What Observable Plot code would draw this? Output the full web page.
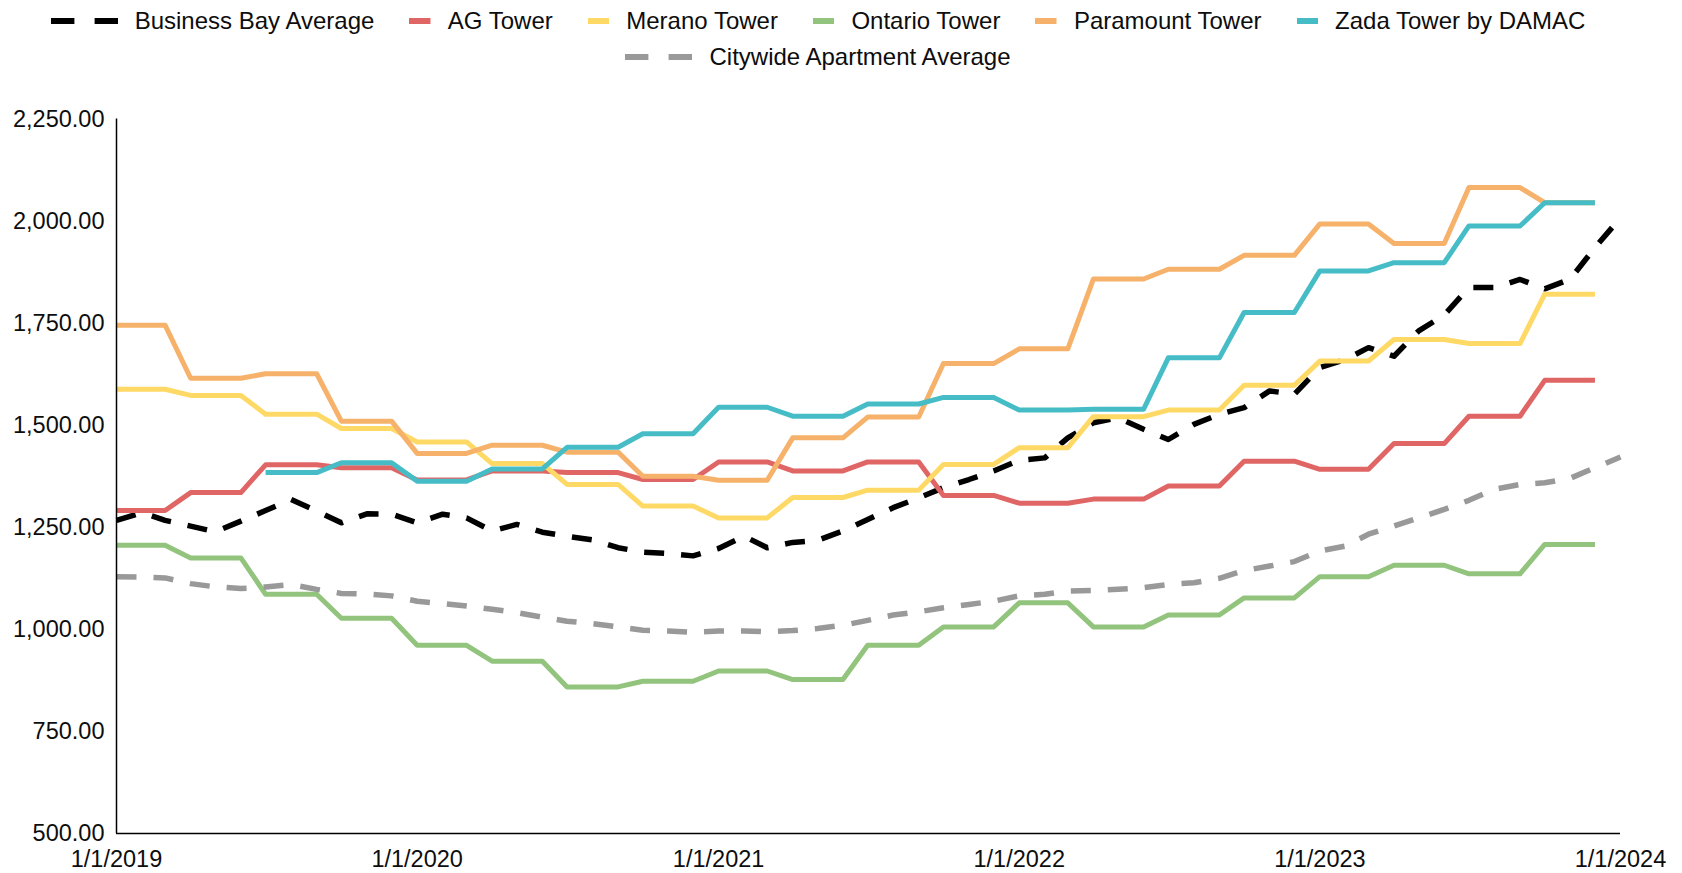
<!DOCTYPE html>
<html><head><meta charset="utf-8">
<script src="https://cdn.jsdelivr.net/npm/d3@7"></script>
<script src="https://cdn.jsdelivr.net/npm/@observablehq/plot@0.6"></script>
<style>
html,body{margin:0;padding:0;background:#fff;}
#wrap{position:relative;width:1682px;height:873px;font-family:"Liberation Sans",Arial,sans-serif;color:#0d0d0d;overflow:hidden;}
.row{position:absolute;left:0;width:1636px;display:flex;justify-content:center;align-items:center;height:30px;font-size:24px;white-space:nowrap;}
.item{display:flex;align-items:center;margin:0 17.5px;}
.item svg{margin-right:17px;display:block;}
#chart{position:absolute;left:0;top:80px;}
</style></head>
<body><div id="wrap"><div id="legend1" class="row" style="top:6px"></div><div id="legend2" class="row" style="top:42px"></div><div id="chart"></div></div>
<script>
// ---- data (monthly, Jan 2019 .. Jan 2024) ----
const businessBay = [1267,1286,1267,1253,1239,1265,1291,1318,1290,1261,1283,1282,
  1261,1282,1273,1241,1257,1238,1228,1219,1200,1189,1186,1180,
  1198,1228,1200,1213,1218,1241,1269,1298,1322,1347,1367,1388,
  1414,1420,1469,1506,1518,1490,1465,1502,1527,1543,1584,1576,
  1641,1661,1690,1669,1731,1770,1837,1837,1857,1834,1858,1935,2008];
const citywide = [1129,1128,1126,1112,1104,1100,1104,1110,1098,1088,1087,1082,
  1069,1063,1057,1049,1041,1030,1020,1014,1006,998,996,993,
  996,996,994,997,1002,1010,1022,1035,1043,1053,1061,1069,
  1082,1086,1094,1095,1098,1102,1110,1114,1125,1144,1155,1166,
  1192,1204,1233,1253,1273,1294,1316,1343,1355,1359,1370,1396,1422];
const agTower = [1291,1291,1291,1335,1335,1335,1403,1403,1403,1396,1396,1396,
  1366,1366,1366,1388,1388,1388,1384,1384,1384,1367,1367,1367,
  1410,1410,1410,1388,1388,1388,1410,1410,1410,1328,1328,1328,
  1309,1309,1309,1319,1319,1319,1351,1351,1351,1412,1412,1412,
  1392,1392,1392,1455,1455,1455,1522,1522,1522,1610,1610,1610];
const meranoTower = [1588,1588,1588,1573,1573,1573,1527,1527,1527,1492,1492,1492,
  1459,1459,1459,1406,1406,1406,1355,1355,1355,1302,1302,1302,
  1273,1273,1273,1323,1323,1323,1341,1341,1341,1404,1404,1404,
  1445,1445,1445,1521,1521,1521,1537,1537,1537,1598,1598,1598,
  1657,1657,1657,1710,1710,1710,1700,1700,1700,1821,1821,1821];
const ontarioTower = [1206,1206,1206,1175,1175,1175,1086,1086,1086,1027,1027,1027,
  961,961,961,922,922,922,859,859,859,873,873,873,
  898,898,898,877,877,877,961,961,961,1006,1006,1006,
  1065,1065,1065,1006,1006,1006,1035,1035,1035,1077,1077,1077,
  1129,1129,1129,1157,1157,1157,1136,1136,1136,1208,1208,1208];
const paramountTower = [1745,1745,1745,1615,1615,1615,1626,1626,1626,1510,1510,1510,
  1431,1431,1431,1451,1451,1451,1434,1434,1434,1375,1375,1375,
  1365,1365,1365,1469,1469,1469,1520,1520,1520,1651,1651,1651,
  1687,1687,1687,1858,1858,1858,1882,1882,1882,1916,1916,1916,
  1993,1993,1993,1945,1945,1945,2082,2082,2082,2045,2045,2045];
const zadaTower = [null,null,null,null,null,null,1384,1384,1384,1408,1408,1408,
  1363,1363,1363,1393,1393,1393,1446,1446,1446,1479,1479,1479,
  1544,1544,1544,1522,1522,1522,1552,1552,1552,1568,1568,1568,
  1537,1537,1537,1539,1539,1539,1665,1665,1665,1776,1776,1776,
  1878,1878,1878,1898,1898,1898,1988,1988,1988,2045,2045,2045];

const seriesNames = ["Business Bay Average","AG Tower","Merano Tower","Ontario Tower","Paramount Tower","Zada Tower by DAMAC","Citywide Apartment Average"];
const seriesValues = [businessBay, agTower, meranoTower, ontarioTower, paramountTower, zadaTower, citywide];
const seriesColors = ["#000000","#e06666","#ffd966","#93c47d","#f6b26b","#46bdc6","#999999"];
const seriesDashed = [true,false,false,false,false,false,true];

const yTicks = [500,750,1000,1250,1500,1750,2000,2250];
const xTickLabels = ["1/1/2019","1/1/2020","1/1/2021","1/1/2022","1/1/2023","1/1/2024"];

// ---- build ----
const start = new Date(Date.UTC(2019,0,1));
const end = new Date(Date.UTC(2024,0,1));
const months = d3.utcMonth.range(start, new Date(Date.UTC(2024,1,1)));
const xTickDates = d3.utcYear.range(start, new Date(Date.UTC(2024,6,1)));
const xLabelMap = new Map(xTickDates.map((d,i)=>[+d, xTickLabels[i]]));

const lineMarks = seriesNames.map((name, s) => {
  const rows = seriesValues[s].map((v,i)=>({date: months[i], value: v, series: name})).filter(r => r.value != null);
  return Plot.line(rows, {
    x: "date", y: "value",
    stroke: seriesColors[s],
    strokeWidth: seriesDashed[s] ? 5.5 : 5,
    strokeDasharray: seriesDashed[s] ? "20,17" : null,
    strokeLinecap: "butt",
    strokeLinejoin: "round"
  });
});

const chart = Plot.plot({
  width: 1682, height: 793,
  marginLeft: 116, marginRight: 62, marginTop: 38.5, marginBottom: 40,
  x: {type: "utc", domain: [start, end]},
  y: {domain: [500, 2250]},
  style: {fontFamily: '"Liberation Sans", Arial, sans-serif', fontSize: "23.5px", color: "#0d0d0d", background: "white", overflow: "visible"},
  marks: [
    Plot.axisY({ticks: yTicks, tickSize: 0, tickPadding: 12, tickFormat: d3.format(",.2f"), label: null}),
    Plot.axisX({ticks: xTickDates, tickSize: 0, tickPadding: 17, tickFormat: d => xLabelMap.get(+d), label: null}),
    ...lineMarks,
    Plot.ruleX([start], {stroke: "#000", strokeWidth: 1.5}),
    Plot.ruleY([500], {stroke: "#000", strokeWidth: 1.5})
  ]
});
document.getElementById("chart").appendChild(chart);

// ---- legend ----
function swatch(color, dashed) {
  const ns = "http://www.w3.org/2000/svg";
  const svg = document.createElementNS(ns, "svg");
  const w = dashed ? 67 : 21.5;
  svg.setAttribute("width", w); svg.setAttribute("height", 6);
  const parts = dashed ? [[0,23.4],[43.6,23.4]] : [[0,21.5]];
  for (const [x, wd] of parts) {
    const r = document.createElementNS(ns, "rect");
    r.setAttribute("x", x); r.setAttribute("y", 0); r.setAttribute("width", wd); r.setAttribute("height", 6);
    r.setAttribute("fill", color);
    svg.appendChild(r);
  }
  return svg;
}
seriesNames.forEach((name, s) => {
  const item = document.createElement("div");
  item.className = "item";
  item.appendChild(swatch(seriesColors[s], seriesDashed[s]));
  const t = document.createElement("span");
  t.textContent = name;
  item.appendChild(t);
  document.getElementById(s < 6 ? "legend1" : "legend2").appendChild(item);
});
</script>
</body></html>
